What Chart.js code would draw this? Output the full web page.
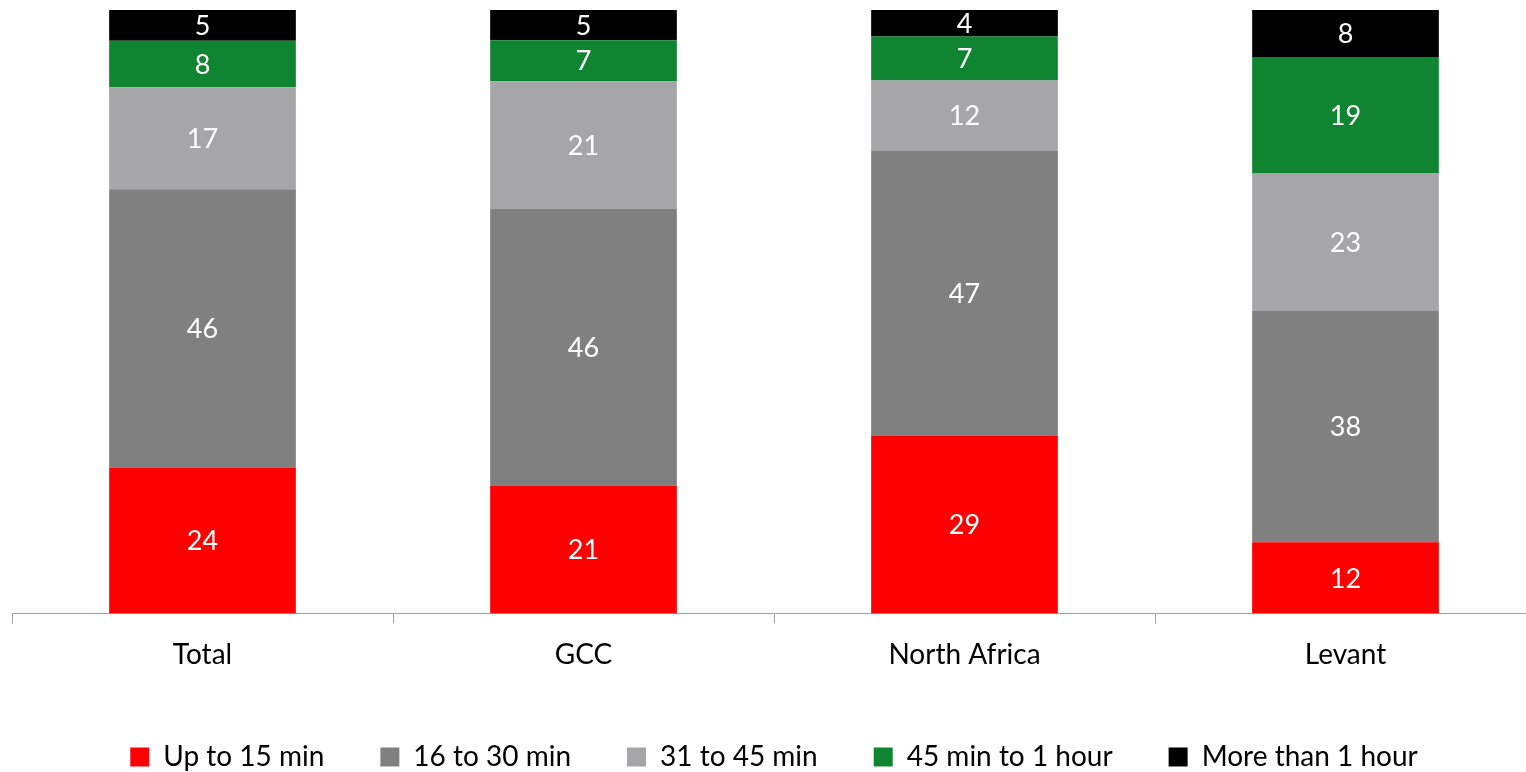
<!DOCTYPE html>
<html>
<head>
<meta charset="utf-8">
<script src="https://cdn.jsdelivr.net/npm/chart.js@4.4.1/dist/chart.umd.min.js"></script>
<style>
  html, body { margin: 0; padding: 0; background: #fff; overflow: hidden; }
  #wrap { width: 1536px; height: 781px; position: relative; }
</style>
</head>
<body>
<div id="wrap"><canvas id="c"></canvas></div>
<script>
const categories = ["Total", "GCC", "North Africa", "Levant"];
const seriesNames = ["Up to 15 min", "16 to 30 min", "31 to 45 min", "45 min to 1 hour", "More than 1 hour"];
const upTo15 = [24.2, 21.2, 29.4, 11.8];
const from16to30 = [46.1, 45.9, 47.3, 38.3];
const from31to45 = [16.9, 21.1, 11.6, 22.9];
const from45to60 = [7.7, 6.8, 7.3, 19.2];
const moreThan1h = [5.1, 5.0, 4.4, 7.8];
const colors = ["#FF0000", "#808080", "#A6A6A9", "#0F8532", "#000000"];

const seriesValues = [upTo15, from16to30, from31to45, from45to60, moreThan1h];
const FONT = "Lato";

const labelPlugin = {
  id: "segLabels",
  afterDatasetsDraw(chart) {
    const ctx = chart.ctx;
    ctx.save();
    ctx.fillStyle = "#FFFFFF";
    ctx.font = "27px " + FONT;
    ctx.textAlign = "center";
    ctx.textBaseline = "middle";
    chart.data.datasets.forEach((ds, i) => {
      const meta = chart.getDatasetMeta(i);
      meta.data.forEach((el, j) => {
        const v = ds.data[j];
        const yc = (el.y + el.base) / 2;
        ctx.fillText(String(Math.round(v)), el.x, yc + 1);
      });
    });
    ctx.restore();
  }
};

new Chart(document.getElementById("c"), {
  type: "bar",
  data: {
    labels: categories,
    datasets: seriesNames.map((name, i) => ({
      label: name,
      data: seriesValues[i],
      backgroundColor: colors[i],
      borderWidth: 0,
      barPercentage: 0.49,
      categoryPercentage: 1.0
    }))
  },
  options: {
    responsive: true,
    maintainAspectRatio: false,
    animation: false,
    layout: { padding: { top: 10, left: 12, right: 0, bottom: 0 } },
    plugins: {
      legend: {
        position: "bottom",
        labels: {
          font: { family: FONT, size: 28 },
          color: "#000",
          boxWidth: 19,
          boxHeight: 19,
          padding: 56
        }
      },
      tooltip: { enabled: false }
    },
    scales: {
      x: {
        stacked: true,
        offset: true,
        border: { display: true, color: "#A0A0A0", width: 1 },
        grid: {
          offset: true,
          drawOnChartArea: false,
          drawTicks: true,
          tickLength: 10,
          color: "#A0A0A0"
        },
        ticks: {
          font: { family: FONT, size: 28 },
          color: "#000",
          padding: 15
        }
      },
      y: {
        stacked: true,
        display: false,
        min: 0,
        max: 100
      }
    }
  },
  plugins: [labelPlugin]
});
</script>
</body>
</html>
